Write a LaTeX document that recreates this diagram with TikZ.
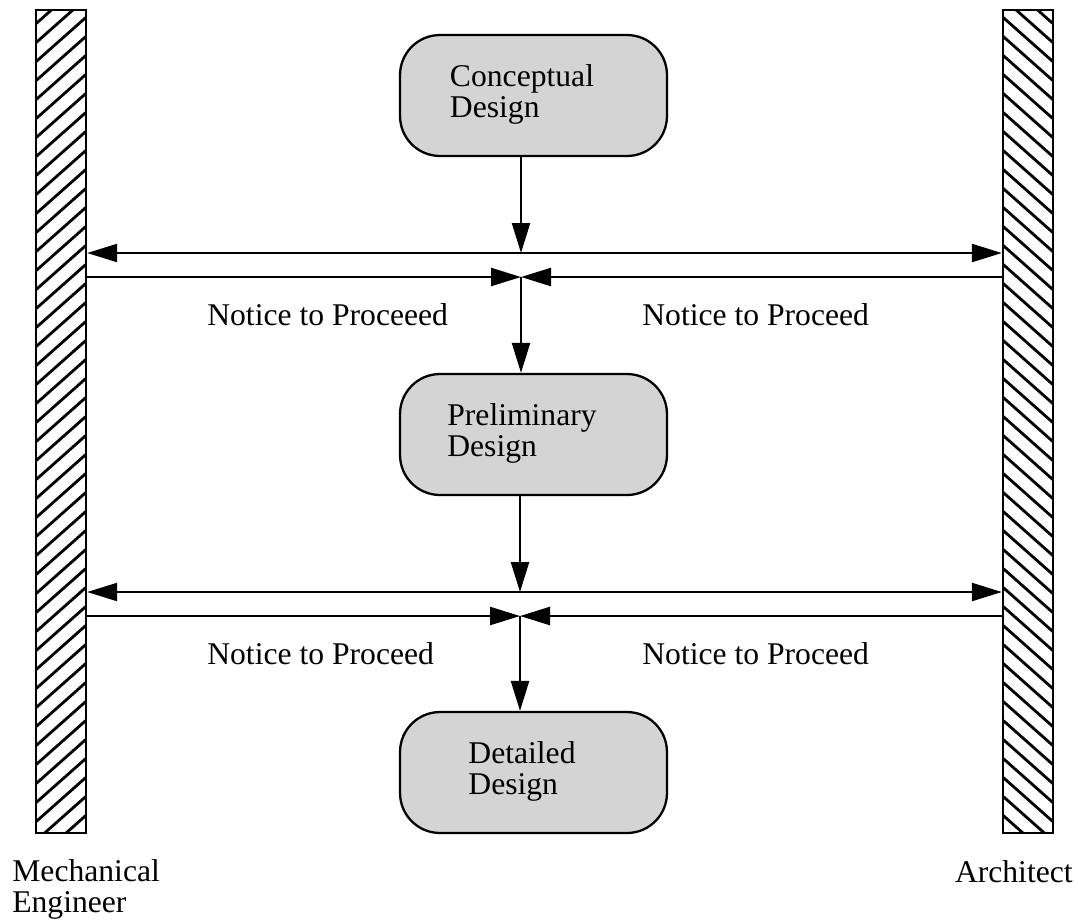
\documentclass[tikz,border=0pt]{standalone}
\usepackage{fontspec}
\setmainfont{Liberation Serif}
\usetikzlibrary{arrows.meta}
\newcommand\blocktext[1]{\begin{tabular}{@{}l@{}}#1\end{tabular}\hspace*{0.46cm}}
\begin{document}
\begin{tikzpicture}[x=0.02cm,y=-0.02cm,
  font=\fontsize{18}{17.8}\selectfont,
  lw/.style={line width=1.3pt},
  hatch/.style={line width=1.6pt},
  head/.tip={Triangle[length=0.6cm,width=0.36cm]},
  box/.style={draw, lw, fill=black!17, rounded corners=0.8cm,
    minimum width=5.34cm, minimum height=2.42cm, inner sep=0pt},
  bar/.style={draw, lw, minimum width=1cm, minimum height=16.46cm, inner sep=0pt},
  lbl/.style={anchor=base west, inner sep=0pt},
  flow/.style={lw, -head}]
\useasboundingbox (0,0) rectangle (1078,921);

% the two parties, drawn as hatched walls (hatch lines relative to the node centre)
\node[bar, path picture={
    \foreach \k in {0,...,46} \draw[hatch] (-31,-411.5+\k*19) -- ++(62,-55);}]
  (me) at (61,421.5) {};
\node[bar, path picture={
    \foreach \k in {0,...,46} \draw[hatch] (-31,-466.5+\k*19) -- ++(62,55);}]
  (ar) at (1028,421.5) {};

\node[anchor=north west, align=left, inner sep=0pt] (mel) at (12,859) {Mechanical\\Engineer};
\node[anchor=base east, inner sep=0pt] (arl) at (1073,882) {Architect};

% design phases
\node[box] (cd) at (533.5,95.5) {\blocktext{Conceptual\\Design}};
\node[box] (pd) at (533.5,434.5) {\blocktext{Preliminary\\Design}};
\node[box] (dd) at (533.5,772.5) {\blocktext{Detailed\\Design}};

% hand-over points
\coordinate (a1) at (521,253);
\coordinate (b1) at (521,277);
\coordinate (a2) at (520,592);
\coordinate (b2) at (520,616);

% first hand-over
\draw[flow] (cd.south -| a1) -- (a1);
\draw[lw, head-head] (me.east |- a1) -- (ar.west |- a1);
\draw[flow] (me.east |- b1) -- (b1);
\draw[flow] (ar.west |- b1) -- (b1);
\draw[flow] (b1) -- (pd.north -| b1);
\node[lbl] (n1l) at (207,325) {Notice to Proceeed};
\node[lbl] (n1r) at (642,325) {Notice to Proceed};

% second hand-over
\draw[flow] (pd.south -| a2) -- (a2);
\draw[lw, head-head] (me.east |- a2) -- (ar.west |- a2);
\draw[flow] (me.east |- b2) -- (b2);
\draw[flow] (ar.west |- b2) -- (b2);
\draw[flow] (b2) -- (dd.north -| b2);
\node[lbl] (n2l) at (207,664) {Notice to Proceed};
\node[lbl] (n2r) at (642,664) {Notice to Proceed};
\end{tikzpicture}
\end{document}
